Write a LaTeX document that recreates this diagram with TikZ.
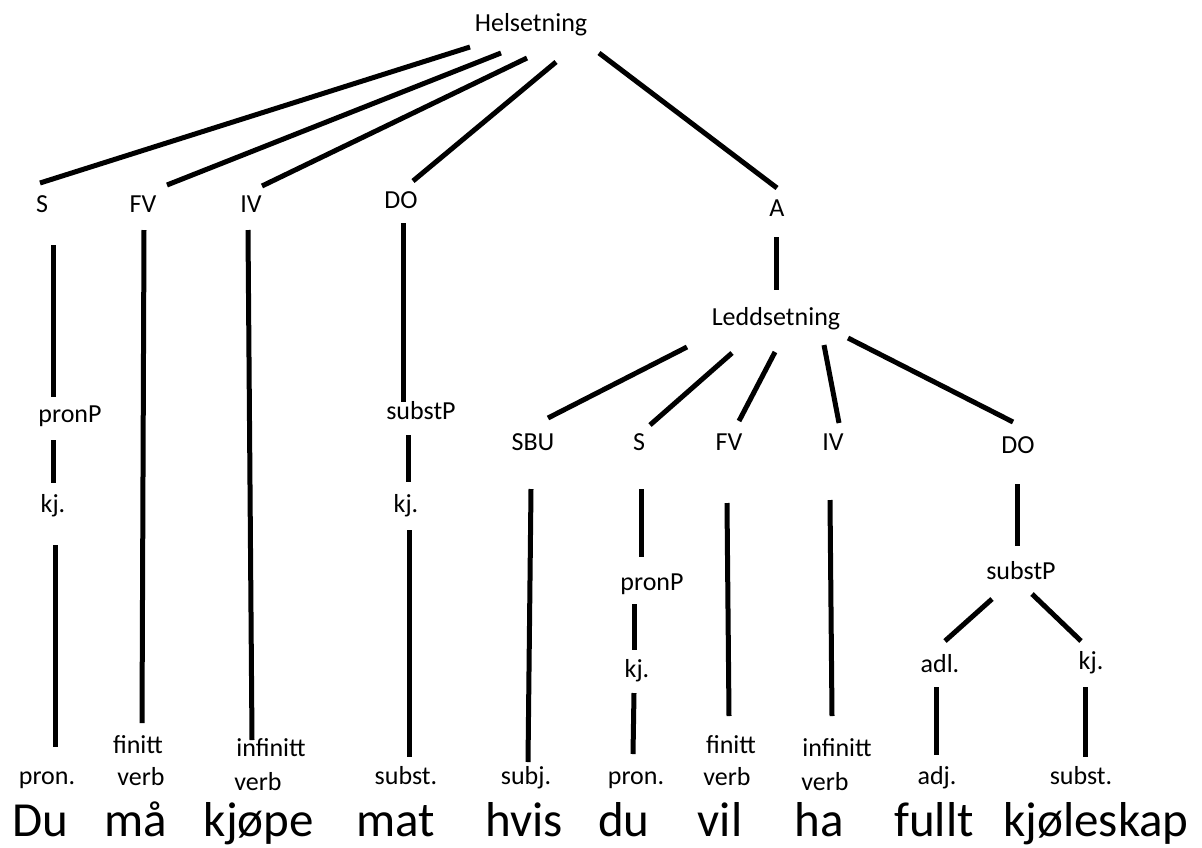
\documentclass[tikz,border=0pt]{standalone}
\usepackage{fontspec}
\setmainfont{Carlito}
\usepackage{tikz}

\begin{document}
\begin{tikzpicture}[
    x=1pt, y=-1pt,
    lab/.style={font=\fontsize{26}{30}\selectfont, inner sep=0pt, anchor=base},
    word/.style={font=\fontsize{49}{56}\selectfont, inner sep=0pt, anchor=base},
    edge/.style={line width=5pt},
]
\useasboundingbox (0,0) rectangle (1202,847);

% helsetning
\node[lab] (h) at (531,31) {Helsetning};
\node[lab] (s1) at (42,212) {S};
\node[lab] (fv1) at (143,212) {FV};
\node[lab] (iv1) at (251,212) {IV};
\node[lab] (do1) at (401,208) {DO};
\node[lab] (a) at (777,216) {A};

\node[lab] (pp1) at (70,422) {pronP};
\node[lab] (kj1) at (53,512) {kj.};
\node[lab] (pr1) at (47,784) {pron.};
\node[lab] (fin1) at (138,753) {finitt};
\node[lab] (vb1) at (141,785) {verb};
\node[lab] (inf1) at (271,756) {infinitt};
\node[lab] (vb2) at (258,790) {verb};
\node[lab] (sp1) at (421,419) {substP};
\node[lab] (kj2) at (406,512) {kj.};
\node[lab] (sb1) at (406,784) {subst.};

% leddsetning
\node[lab] (ls) at (776,325) {Leddsetning};
\node[lab] (sbu) at (533,450) {SBU};
\node[lab] (s2) at (639,450) {S};
\node[lab] (fv2) at (729,450) {FV};
\node[lab] (iv2) at (833,450) {IV};
\node[lab] (do2) at (1018,453) {DO};

\node[lab] (sj) at (526,784) {subj.};
\node[lab] (pp2) at (652,590) {pronP};
\node[lab] (kj3) at (637,677) {kj.};
\node[lab] (pr2) at (636,784) {pron.};
\node[lab] (fin2) at (731,753) {finitt};
\node[lab] (vb3) at (727,785) {verb};
\node[lab] (inf2) at (837,756) {infinitt};
\node[lab] (vb4) at (825,790) {verb};
\node[lab] (sp2) at (1021,579) {substP};
\node[lab] (adl) at (940,672) {adl.};
\node[lab] (kj4) at (1091,669) {kj.};
\node[lab] (adj) at (937,784) {adj.};
\node[lab] (sb2) at (1081,784) {subst.};

% setningen
\node[word] (w1) at (40,836) {Du};
\node[word] (w2) at (136,836) {må};
\node[word] (w3) at (259,836) {kjøpe};
\node[word] (w4) at (396,836) {mat};
\node[word] (w5) at (524,836) {hvis};
\node[word] (w6) at (624,836) {du};
\node[word] (w7) at (720,836) {vil};
\node[word] (w8) at (819,836) {ha};
\node[word] (w9) at (934,836) {fullt};
\node[word] (w10) at (1096,836) {kjøleskap};

\draw[edge] ([shift={(-61,16)}]h.base) -- ([shift={(-2,-29)}]s1.base);
\draw[edge] ([shift={(-30,22)}]h.base) -- ([shift={(24,-27)}]fv1.base);
\draw[edge] ([shift={(-4,27)}]h.base) -- ([shift={(11,-26)}]iv1.base);
\draw[edge] ([shift={(25,31)}]h.base) -- ([shift={(12,-27)}]do1.base);
\draw[edge] ([shift={(68,22)}]h.base) -- ([shift={(0,-28)}]a.base);

\draw[edge] ([shift={(11,33)}]s1.base) -- ([shift={(-17,-25)}]pp1.base);
\draw[edge] ([shift={(-17,18)}]pp1.base) -- ([shift={(0,-29)}]kj1.base);
\draw[edge] ([shift={(2,33)}]kj1.base) -- ([shift={(8,-37)}]pr1.base);
\draw[edge] ([shift={(1,18)}]fv1.base) -- ([shift={(4,-30)}]fin1.base);
\draw[edge] ([shift={(-3,18)}]iv1.base) -- ([shift={(-19,-16)}]inf1.base);
\draw[edge] ([shift={(2,15)}]do1.base) -- ([shift={(-18,-17)}]sp1.base);
\draw[edge] ([shift={(-13,16)}]sp1.base) -- ([shift={(2,-30)}]kj2.base);
\draw[edge] ([shift={(3,18)}]kj2.base) -- ([shift={(3,-27)}]sb1.base);

\draw[edge] ([shift={(-1,21)}]a.base) -- ([shift={(0,-35)}]ls.base);
\draw[edge] ([shift={(-89,22)}]ls.base) -- ([shift={(15,-32)}]sbu.base);
\draw[edge] ([shift={(-44,28)}]ls.base) -- ([shift={(11,-25)}]s2.base);
\draw[edge] ([shift={(-1,27)}]ls.base) -- ([shift={(10,-29)}]fv2.base);
\draw[edge] ([shift={(48,20)}]ls.base) -- ([shift={(6,-27)}]iv2.base);
\draw[edge] ([shift={(72,13)}]ls.base) -- ([shift={(-5,-31)}]do2.base);

\draw[edge] ([shift={(-2,39)}]sbu.base) -- ([shift={(2,-22)}]sj.base);
\draw[edge] ([shift={(2,39)}]s2.base) -- ([shift={(-11,-33)}]pp2.base);
\draw[edge] ([shift={(-18,14)}]pp2.base) -- ([shift={(-3,-27)}]kj3.base);
\draw[edge] ([shift={(-3,16)}]kj3.base) -- ([shift={(-3,-30)}]pr2.base);
\draw[edge] ([shift={(-2,53)}]fv2.base) -- ([shift={(-2,-37)}]fin2.base);
\draw[edge] ([shift={(-3,50)}]iv2.base) -- ([shift={(-5,-40)}]inf2.base);
\draw[edge] ([shift={(-1,31)}]do2.base) -- ([shift={(-4,-33)}]sp2.base);
\draw[edge] ([shift={(-29,20)}]sp2.base) -- ([shift={(5,-31)}]adl.base);
\draw[edge] ([shift={(11,15)}]sp2.base) -- ([shift={(-10,-28)}]kj4.base);
\draw[edge] ([shift={(-4,15)}]adl.base) -- ([shift={(-1,-29)}]adj.base);
\draw[edge] ([shift={(-6,18)}]kj4.base) -- ([shift={(4,-27)}]sb2.base);

\end{tikzpicture}
\end{document}
